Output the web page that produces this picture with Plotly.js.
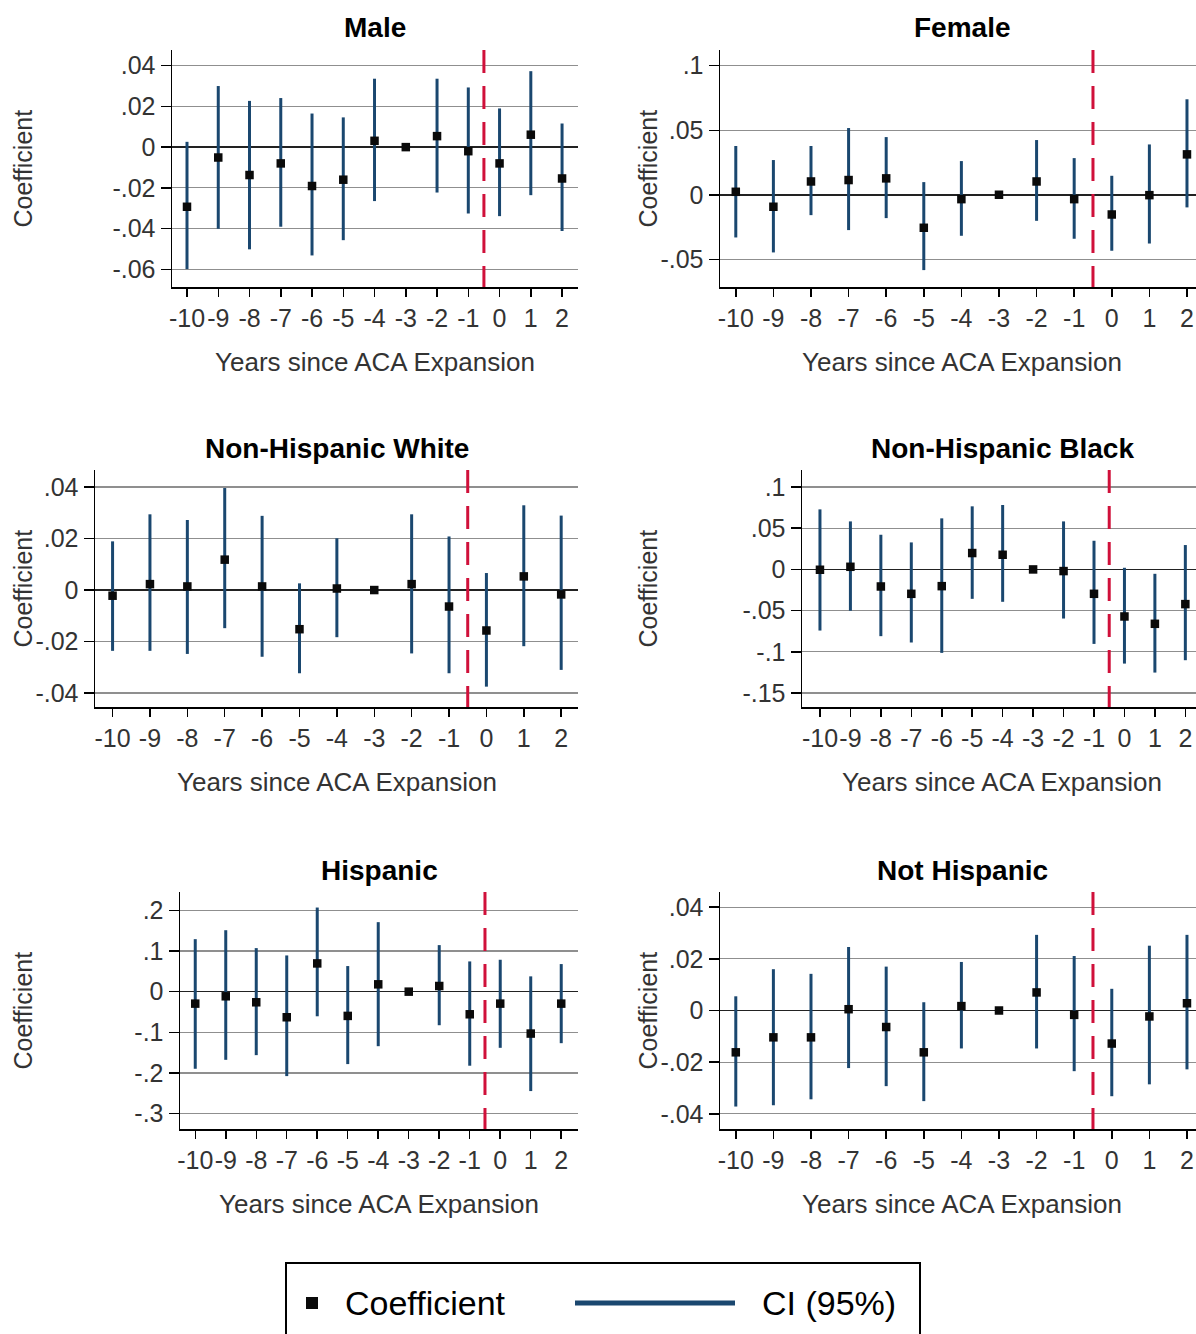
<!DOCTYPE html>
<html>
<head>
<meta charset="utf-8">
<script src="https://cdn.plot.ly/plotly-3.0.1.min.js"></script>
<style>
  html, body { margin: 0; padding: 0; background: #fff; overflow: hidden; }
  #chart { width: 1196px; height: 1334px; }
</style>
</head>
<body>
<div id="chart"></div>
<script>
// Event-study estimates: years relative to ACA expansion (year -3 is the reference year)
const years = [-10, -9, -8, -7, -6, -5, -4, -3, -2, -1, 0, 1, 2];
const yearLabels = ["-10", "-9", "-8", "-7", "-6", "-5", "-4", "-3", "-2", "-1", "0", "1", "2"];

const maleCoef = [-0.0293, -0.0051, -0.0137, -0.0080, -0.0191, -0.0160, 0.0031, 0, 0.0054, -0.0020, -0.0080, 0.0061, -0.0154];
const maleLow  = [-0.0599, -0.0401, -0.0502, -0.0391, -0.0532, -0.0457, -0.0265, null, -0.0223, -0.0326, -0.0339, -0.0236, -0.0412];
const maleHigh = [0.0026, 0.0300, 0.0227, 0.0241, 0.0165, 0.0146, 0.0336, null, 0.0336, 0.0293, 0.0190, 0.0373, 0.0116];

const femaleCoef = [0.0023, -0.0093, 0.0103, 0.0114, 0.0127, -0.0256, -0.0034, 0, 0.0103, -0.0034, -0.0153, -0.0003, 0.0313];
const femaleLow  = [-0.0331, -0.0447, -0.0158, -0.0274, -0.0181, -0.0584, -0.0318, null, -0.0202, -0.0341, -0.0434, -0.0378, -0.0098];
const femaleHigh = [0.0378, 0.0269, 0.0378, 0.0517, 0.0447, 0.0098, 0.0261, null, 0.0424, 0.0284, 0.0147, 0.0390, 0.0740];

const whiteCoef = [-0.0022, 0.0023, 0.0014, 0.0118, 0.0014, -0.0152, 0.0006, 0, 0.0023, -0.0064, -0.0157, 0.0053, -0.0017];
const whiteLow  = [-0.0236, -0.0236, -0.0248, -0.0148, -0.0259, -0.0323, -0.0183, null, -0.0246, -0.0323, -0.0375, -0.0218, -0.0310];
const whiteHigh = [0.0189, 0.0294, 0.0272, 0.0396, 0.0288, 0.0026, 0.0201, null, 0.0294, 0.0208, 0.0066, 0.0329, 0.0289];

const blackCoef = [-0.0004, 0.0032, -0.0207, -0.0296, -0.0203, 0.0199, 0.0178, 0, -0.0020, -0.0296, -0.0571, -0.0660, -0.0421];
const blackLow  = [-0.0742, -0.0502, -0.0810, -0.0887, -0.1013, -0.0357, -0.0393, null, -0.0596, -0.0904, -0.1143, -0.1252, -0.1102];
const blackHigh = [0.0729, 0.0583, 0.0421, 0.0328, 0.0620, 0.0766, 0.0782, null, 0.0583, 0.0348, 0.0020, -0.0053, 0.0296];

const hispCoef = [-0.0294, -0.0114, -0.0261, -0.0629, 0.0694, -0.0596, 0.0180, 0, 0.0139, -0.0556, -0.0294, -0.1030, -0.0294];
const hispLow  = [-0.1895, -0.1675, -0.1560, -0.2075, -0.0605, -0.1780, -0.1340, null, -0.0825, -0.1820, -0.1380, -0.2443, -0.1266];
const hispHigh = [0.1290, 0.1510, 0.1070, 0.0890, 0.2067, 0.0629, 0.1708, null, 0.1144, 0.0743, 0.0784, 0.0376, 0.0678];

const notHispCoef = [-0.0162, -0.0104, -0.0104, 0.0005, -0.0064, -0.0162, 0.0017, 0, 0.0070, -0.0017, -0.0128, -0.0023, 0.0028];
const notHispLow  = [-0.0372, -0.0367, -0.0344, -0.0223, -0.0293, -0.0351, -0.0147, null, -0.0147, -0.0235, -0.0332, -0.0286, -0.0228];
const notHispHigh = [0.0055, 0.0160, 0.0142, 0.0246, 0.0170, 0.0032, 0.0188, null, 0.0293, 0.0211, 0.0084, 0.0251, 0.0293];

// y-axis ticks (Stata-style labels without leading zero)
const ticks04 = [0.04, 0.02, 0, -0.02, -0.04];
const labels04 = [".04", ".02", "0", "-.02", "-.04"];
const ticksMale = [0.04, 0.02, 0, -0.02, -0.04, -0.06];
const labelsMale = [".04", ".02", "0", "-.02", "-.04", "-.06"];
const ticksFemale = [0.1, 0.05, 0, -0.05];
const labelsFemale = [".1", ".05", "0", "-.05"];
const ticksBlack = [0.1, 0.05, 0, -0.05, -0.1, -0.15];
const labelsBlack = [".1", ".05", "0", "-.05", "-.1", "-.15"];
const ticksHisp = [0.2, 0.1, 0, -0.1, -0.2, -0.3];
const labelsHisp = [".2", ".1", "0", "-.1", "-.2", "-.3"];

const W = 1196, H = 1334;
const px = v => v / W;
const py = v => 1 - v / H;

const NAVY = "#1a476f";
const RED = "#d0103a";
const FONT = "Liberation Sans, Arial, Helvetica, sans-serif";

// panel frames in page pixels: plot left/right/top/bottom, x range, text centres
const panels = [
  { title: "Male", coef: maleCoef, low: maleLow, high: maleHigh, yt: ticksMale, yl: labelsMale,
    l: 172, r: 578, t: 50, b: 287, xr: [-10.48, 2.51], yr: [-0.0687, 0.0477], cx: 375, ytx: 22 },
  { title: "Female", coef: femaleCoef, low: femaleLow, high: femaleHigh, yt: ticksFemale, yl: labelsFemale,
    l: 720, r: 1196, t: 50, b: 287, xr: [-10.42, 2.24], yr: [-0.0715, 0.1122], cx: 962, ytx: 647 },
  { title: "Non-Hispanic White", coef: whiteCoef, low: whiteLow, high: whiteHigh, yt: ticks04, yl: labels04,
    l: 95, r: 578, t: 470, b: 707, xr: [-10.47, 2.45], yr: [-0.0454, 0.0466], cx: 337, ytx: 22 },
  { title: "Non-Hispanic Black", coef: blackCoef, low: blackLow, high: blackHigh, yt: ticksBlack, yl: labelsBlack,
    l: 802, r: 1196, t: 470, b: 707, xr: [-10.59, 2.35], yr: [-0.167, 0.1207], cx: 1002, ytx: 647 },
  { title: "Hispanic", coef: hispCoef, low: hispLow, high: hispHigh, yt: ticksHisp, yl: labelsHisp,
    l: 180, r: 578, t: 892, b: 1129, xr: [-10.5, 2.55], yr: [-0.3375, 0.2449], cx: 379, ytx: 22 },
  { title: "Not Hispanic", coef: notHispCoef, low: notHispLow, high: notHispHigh, yt: ticks04, yl: labels04,
    l: 720, r: 1196, t: 892, b: 1129, xr: [-10.42, 2.24], yr: [-0.0459, 0.0459], cx: 962, ytx: 647 }
];

const data = [];
const layout = {
  width: W, height: H,
  margin: { l: 0, r: 0, t: 0, b: 0, pad: 0 },
  paper_bgcolor: "#fff", plot_bgcolor: "#fff",
  showlegend: false,
  font: { family: FONT, color: "#333" },
  shapes: [], annotations: []
};

panels.forEach((p, i) => {
  const n = i === 0 ? "" : String(i + 1);
  const xa = "x" + n, ya = "y" + n;

  // confidence intervals as vertical error bars, coefficients as black squares
  data.push({
    type: "scatter", mode: "markers", xaxis: xa, yaxis: ya,
    x: years, y: p.coef,
    error_y: {
      type: "data", symmetric: false, visible: true,
      array: p.high.map((h, k) => h === null ? 0 : h - p.coef[k]),
      arrayminus: p.low.map((lo, k) => lo === null ? 0 : p.coef[k] - lo),
      color: NAVY, thickness: 3, width: 0
    },
    marker: { symbol: "square", size: 8.5, color: "#0a0a0a" },
    cliponaxis: false, hoverinfo: "skip"
  });

  layout["xaxis" + n] = {
    domain: [px(p.l), px(p.r)], anchor: ya, range: p.xr,
    tickmode: "array", tickvals: years, ticktext: yearLabels, tickangle: 0,
    showgrid: false, zeroline: false,
    showline: true, linecolor: "#000", linewidth: 1.5,
    ticks: "outside", ticklen: 8, tickwidth: 1.5, tickcolor: "#000",
    tickfont: { size: 25, color: "#333", family: FONT }, ticklabelstandoff: 0,
    ticklabeloverflow: "allow",
    fixedrange: true
  };
  layout["yaxis" + n] = {
    domain: [py(p.b), py(p.t)], anchor: xa, range: p.yr,
    tickmode: "array", tickvals: p.yt, ticktext: p.yl,
    showgrid: true, gridcolor: "#8f8f8f", gridwidth: 1.2,
    zeroline: true, zerolinecolor: "#222", zerolinewidth: 1.5,
    showline: true, linecolor: "#000", linewidth: 1.5,
    ticks: "outside", ticklen: 10, tickwidth: 1.5, tickcolor: "#000",
    tickfont: { size: 25, color: "#333", family: FONT }, ticklabelstandoff: 0,
    ticklabeloverflow: "allow",
    fixedrange: true
  };

  // expansion date marker between year -1 and year 0
  layout.shapes.push({
    type: "line", xref: xa, yref: ya + " domain",
    x0: -0.5, x1: -0.5, y0: 1, y1: 0,
    line: { color: RED, width: 3, dash: "23px,13px" }
  });

  layout.annotations.push(
    { xref: "paper", yref: "paper", x: px(p.cx), y: py(p.t - 22), text: "<b>" + p.title + "</b>",
      showarrow: false, xanchor: "center", yanchor: "middle",
      font: { size: 28, color: "#000", family: FONT } },
    { xref: "paper", yref: "paper", x: px(p.cx), y: py(p.b + 75), text: "Years since ACA Expansion",
      showarrow: false, xanchor: "center", yanchor: "middle",
      font: { size: 26, color: "#333", family: FONT } },
    { xref: "paper", yref: "paper", x: px(p.ytx), y: py((p.t + p.b) / 2), text: "Coefficient",
      textangle: -90, showarrow: false, xanchor: "center", yanchor: "middle",
      font: { size: 25, color: "#333", family: FONT } }
  );
});

// legend box with its two keys
layout.shapes.push(
  { type: "rect", xref: "paper", yref: "paper",
    x0: px(286), x1: px(920), y0: py(1345), y1: py(1263),
    line: { color: "#000", width: 2 }, fillcolor: "rgba(0,0,0,0)" },
  { type: "rect", xref: "paper", yref: "paper",
    x0: px(306), x1: px(318), y0: py(1309), y1: py(1297),
    line: { width: 0 }, fillcolor: "#0a0a0a" },
  { type: "line", xref: "paper", yref: "paper",
    x0: px(575), x1: px(735), y0: py(1303), y1: py(1303),
    line: { color: NAVY, width: 5 } }
);
layout.annotations.push(
  { xref: "paper", yref: "paper", x: px(343), y: py(1303), text: "Coefficient",
    showarrow: false, xanchor: "left", yanchor: "middle",
    font: { size: 34, color: "#000", family: FONT } },
  { xref: "paper", yref: "paper", x: px(760), y: py(1303), text: "CI (95%)",
    showarrow: false, xanchor: "left", yanchor: "middle",
    font: { size: 34, color: "#000", family: FONT } }
);

Plotly.newPlot("chart", data, layout, { staticPlot: true, displayModeBar: false });
</script>
</body>
</html>
